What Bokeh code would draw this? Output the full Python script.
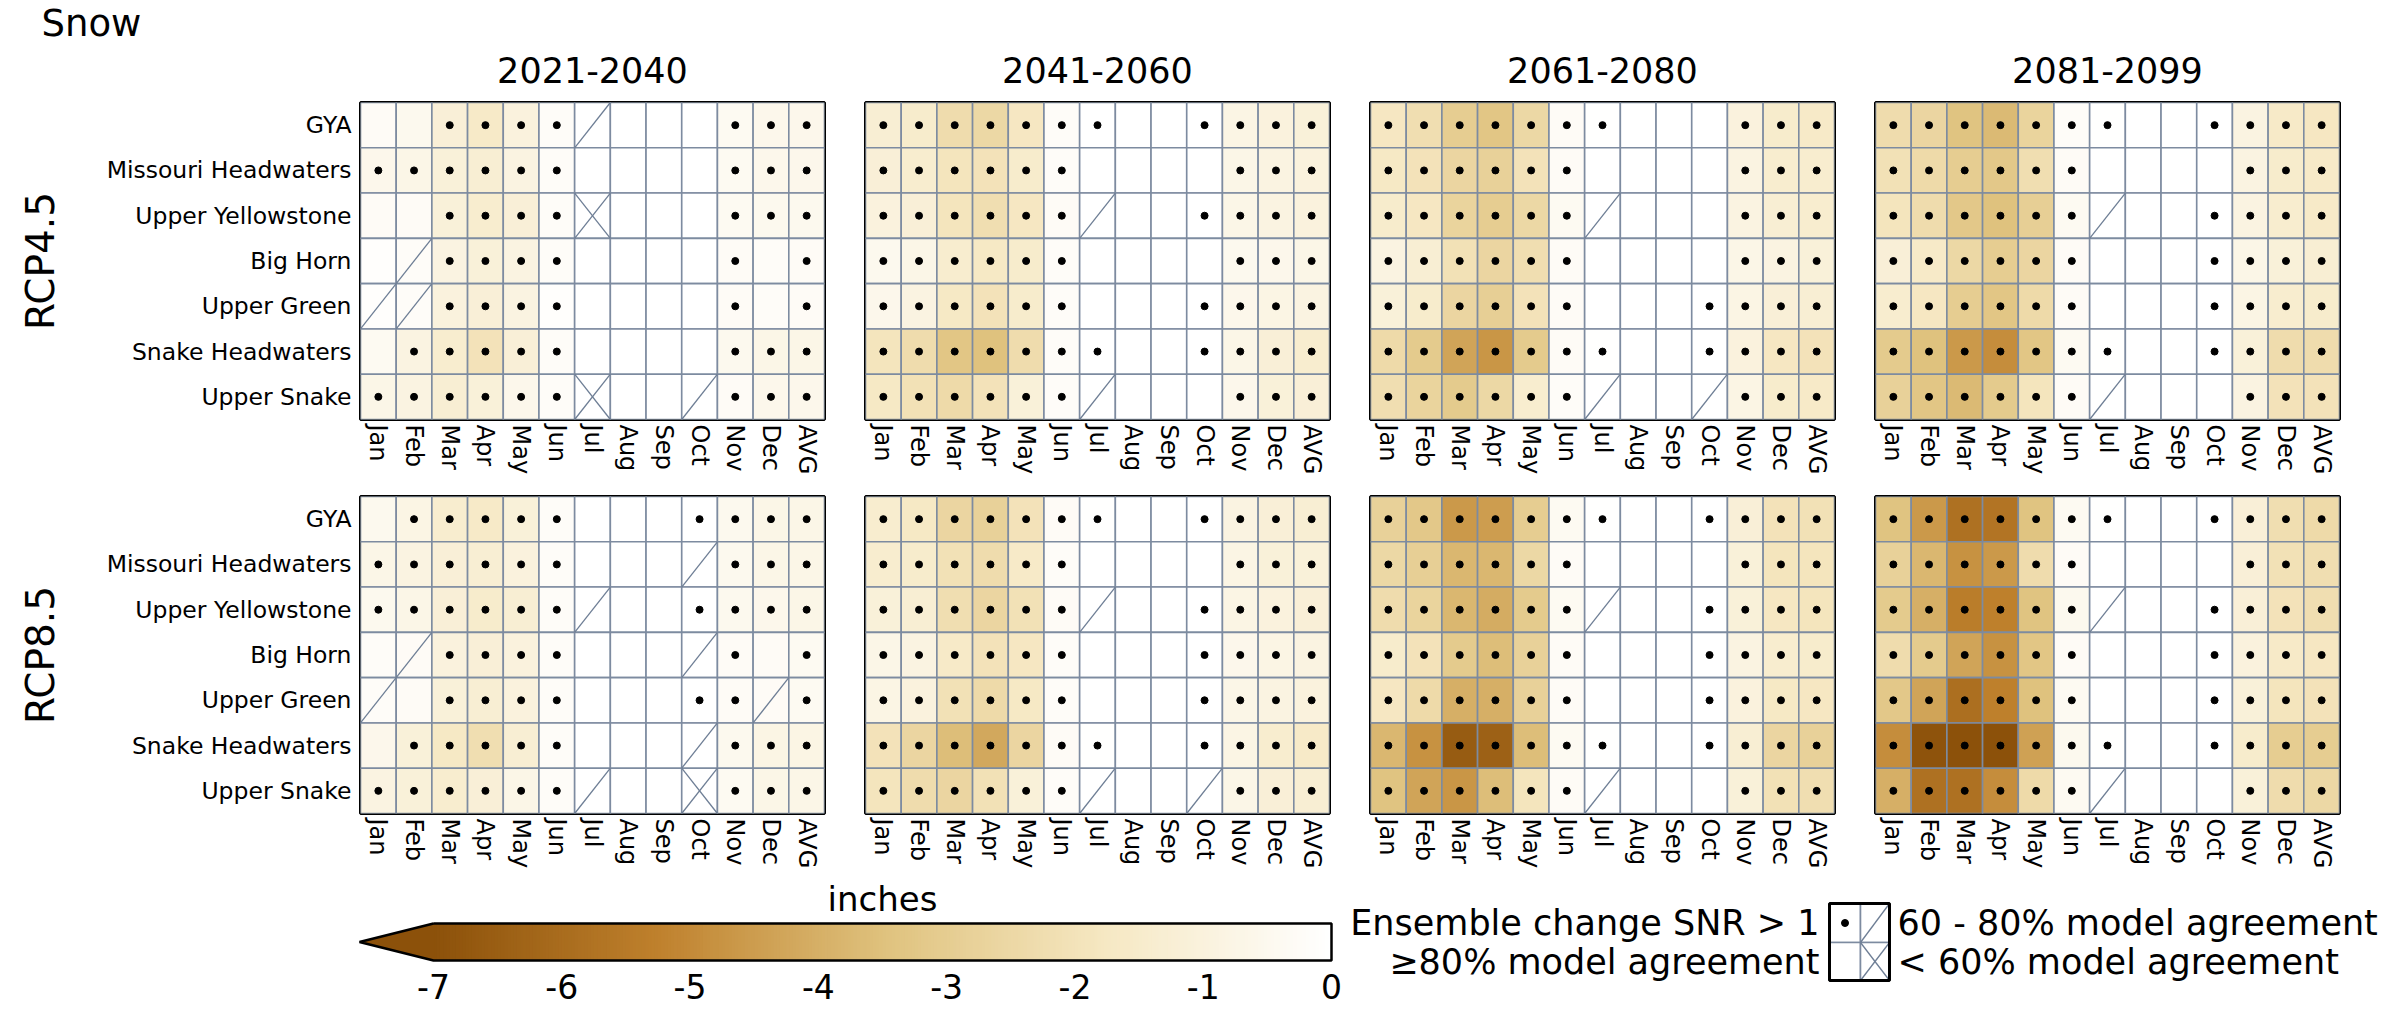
import math
import numpy as np
from bokeh.plotting import figure
from bokeh.layouts import column, row
from bokeh.models import ColumnDataSource, FactorRange, LinearColorMapper, Range1d
from bokeh.transform import transform, dodge
from bokeh.core.properties import value
from bokeh.embed import file_html
from bokeh.resources import INLINE

# ---------------- data ----------------
MONTHS = ["Jan", "Feb", "Mar", "Apr", "May", "Jun", "Jul", "Aug", "Sep", "Oct", "Nov", "Dec", "AVG"]
REGIONS = ["GYA", "Missouri Headwaters", "Upper Yellowstone", "Big Horn",
           "Upper Green", "Snake Headwaters", "Upper Snake"]
PERIODS = ["2021-2040", "2041-2060", "2061-2080", "2081-2099"]
SCENARIOS = ["RCP4.5", "RCP8.5"]
CBAR_TICKS = [-7, -6, -5, -4, -3, -2, -1, 0]
TITLE = "Snow"
CBAR_LABEL = "inches"
LEGEND_TEXT = ["Ensemble change SNR > 1", "\u226580% model agreement",
               "60 - 80% model agreement", "< 60% model agreement"]

# marks: 'o' = SNR > 1 dot, '/' = 60-80% agreement, 'x' = <60% agreement, '.' = none
rcp45_2021 = [
    [-0.3, -0.5, -1.2, -1.6, -1.0, -0.2, 0, 0, 0, 0, -0.4, -0.6, -0.6],
    [-0.6, -0.7, -1.1, -1.3, -0.9, -0.2, 0, 0, 0, 0, -0.4, -0.6, -0.6],
    [-0.3, -0.3, -1.1, -1.4, -1.2, -0.2, 0, 0, 0, 0, -0.4, -0.5, -0.5],
    [-0.1, -0.2, -0.9, -1.1, -0.9, -0.2, 0, 0, 0, 0, -0.3, -0.2, -0.3],
    [-0.1, -0.2, -1.0, -1.2, -0.9, -0.1, 0, 0, 0, 0, -0.3, -0.2, -0.3],
    [-0.4, -0.9, -1.4, -2.0, -1.2, -0.2, 0, 0, 0, 0, -0.5, -0.7, -0.7],
    [-0.7, -0.9, -1.3, -1.1, -0.6, -0.2, 0, 0, 0, 0, -0.3, -0.6, -0.6],
]
rcp45_2021_marks = ["..oooo/...ooo", "oooooo....ooo", "..oooox...ooo", "./oooo....o.o",
                    "//oooo....o.o", ".ooooo....ooo", "oooooox../ooo"]

rcp45_2041 = [
    [-1.3, -1.5, -2.3, -2.5, -1.8, -0.2, -0.02, 0, 0, -0.02, -0.8, -1.0, -1.1],
    [-1.2, -1.4, -1.9, -2.0, -1.5, -0.2, 0, 0, 0, 0, -0.7, -0.9, -1.0],
    [-1.0, -1.2, -1.9, -2.2, -1.8, -0.3, 0, 0, 0, -0.02, -0.7, -0.9, -1.0],
    [-0.5, -0.7, -1.4, -1.7, -1.5, -0.2, 0, 0, 0, 0, -0.5, -0.6, -0.7],
    [-0.6, -0.9, -1.7, -2.0, -1.5, -0.2, 0, 0, 0, -0.02, -0.6, -0.8, -0.9],
    [-1.9, -2.3, -3.3, -3.5, -2.3, -0.2, -0.02, 0, 0, -0.02, -0.7, -1.2, -1.4],
    [-1.7, -2.1, -2.4, -2.0, -1.1, -0.2, 0, 0, 0, 0, -0.6, -1.1, -1.2],
]
rcp45_2041_marks = ["ooooooo..oooo", "oooooo....ooo", "oooooo/..oooo", "oooooo....ooo",
                    "oooooo...oooo", "ooooooo..oooo", "oooooo/...ooo"]

rcp45_2061 = [
    [-1.8, -2.2, -3.0, -3.3, -2.5, -0.3, -0.03, 0, 0, 0, -1.0, -1.5, -1.6],
    [-1.7, -2.0, -2.6, -2.8, -2.0, -0.3, 0, 0, 0, 0, -0.9, -1.4, -1.4],
    [-1.5, -1.8, -2.7, -3.0, -2.5, -0.4, 0, 0, 0, 0, -0.9, -1.3, -1.4],
    [-0.9, -1.3, -2.1, -2.6, -2.2, -0.3, 0, 0, 0, 0, -0.7, -0.9, -1.1],
    [-1.1, -1.5, -2.6, -2.9, -2.0, -0.3, 0, 0, 0, -0.02, -0.8, -1.2, -1.3],
    [-2.4, -3.1, -4.3, -4.7, -3.1, -0.3, -0.03, 0, 0, -0.02, -1.0, -1.8, -2.0],
    [-2.2, -2.7, -3.1, -2.5, -1.4, -0.2, 0, 0, 0, 0, -0.8, -1.5, -1.6],
]
rcp45_2061_marks = ["ooooooo...ooo", "oooooo....ooo", "oooooo/...ooo", "oooooo....ooo",
                    "oooooo...oooo", "ooooooo..oooo", "oooooo/../ooo"]

rcp45_2081 = [
    [-2.3, -2.6, -3.4, -3.7, -2.7, -0.2, -0.03, 0, 0, -0.02, -0.9, -1.6, -1.8],
    [-2.1, -2.4, -3.0, -3.2, -2.2, -0.3, 0, 0, 0, 0, -0.9, -1.5, -1.6],
    [-1.9, -2.3, -3.2, -3.5, -2.9, -0.4, 0, 0, 0, -0.02, -0.9, -1.4, -1.6],
    [-1.2, -1.6, -2.5, -3.0, -2.6, -0.3, 0, 0, 0, -0.02, -0.7, -1.1, -1.3],
    [-1.4, -1.8, -3.0, -3.3, -2.4, -0.3, 0, 0, 0, -0.02, -0.8, -1.4, -1.5],
    [-3.1, -3.5, -4.6, -4.9, -3.3, -0.4, -0.03, 0, 0, -0.02, -1.1, -2.3, -2.3],
    [-2.8, -3.3, -3.7, -3.1, -1.9, -0.3, 0, 0, 0, 0, -0.9, -2.0, -2.0],
]
rcp45_2081_marks = ["ooooooo..oooo", "oooooo....ooo", "oooooo/..oooo", "oooooo...oooo",
                    "oooooo...oooo", "ooooooo..oooo", "oooooo/...ooo"]

rcp85_2021 = [
    [-0.5, -0.8, -1.4, -1.6, -1.1, -0.2, 0, 0, 0, -0.02, -0.5, -0.7, -0.7],
    [-0.7, -0.9, -1.2, -1.3, -1.0, -0.2, 0, 0, 0, 0, -0.5, -0.7, -0.7],
    [-0.5, -0.7, -1.2, -1.5, -1.3, -0.2, 0, 0, 0, -0.02, -0.5, -0.6, -0.7],
    [-0.2, -0.3, -1.0, -1.2, -1.0, -0.2, 0, 0, 0, 0, -0.3, -0.3, -0.4],
    [-0.2, -0.3, -1.1, -1.3, -1.0, -0.2, 0, 0, 0, -0.02, -0.3, -0.3, -0.4],
    [-0.6, -1.1, -1.7, -2.2, -1.3, -0.2, 0, 0, 0, 0, -0.5, -0.8, -0.8],
    [-0.9, -1.1, -1.4, -1.2, -0.7, -0.2, 0, 0, 0, 0, -0.4, -0.7, -0.7],
]
rcp85_2021_marks = [".ooooo...oooo", "oooooo.../ooo", "oooooo/..oooo", "./oooo.../o.o",
                    "/.oooo...oo/o", ".ooooo.../ooo", "oooooo/..xooo"]

rcp85_2041 = [
    [-1.4, -1.7, -2.6, -2.8, -2.0, -0.3, -0.03, 0, 0, -0.02, -0.9, -1.2, -1.3],
    [-1.4, -1.5, -2.1, -2.3, -1.6, -0.2, 0, 0, 0, 0, -0.8, -1.1, -1.1],
    [-1.1, -1.3, -2.2, -2.6, -2.1, -0.3, 0, 0, 0, -0.02, -0.8, -1.0, -1.2],
    [-0.7, -0.9, -1.6, -2.0, -1.8, -0.2, 0, 0, 0, -0.02, -0.6, -0.8, -0.9],
    [-0.8, -1.0, -2.1, -2.4, -1.7, -0.2, 0, 0, 0, -0.02, -0.7, -0.9, -1.0],
    [-2.0, -2.6, -3.6, -4.2, -2.6, -0.3, -0.03, 0, 0, -0.02, -0.8, -1.4, -1.6],
    [-1.9, -2.3, -2.6, -2.1, -1.1, -0.2, 0, 0, 0, 0, -0.7, -1.2, -1.3],
]
rcp85_2041_marks = ["ooooooo..oooo", "oooooo....ooo", "oooooo/..oooo", "oooooo...oooo",
                    "oooooo...oooo", "ooooooo..oooo", "oooooo/../ooo"]

rcp85_2061 = [
    [-2.8, -3.2, -4.6, -4.5, -3.0, -0.4, -0.03, 0, 0, -0.02, -1.2, -2.0, -2.1],
    [-2.5, -2.9, -3.8, -3.8, -2.5, -0.3, 0, 0, 0, 0, -1.1, -1.9, -1.9],
    [-2.3, -2.7, -3.8, -4.1, -3.1, -0.4, 0, 0, 0, -0.02, -1.1, -1.8, -1.9],
    [-1.5, -2.0, -3.1, -3.6, -2.8, -0.3, 0, 0, 0, -0.02, -0.9, -1.4, -1.5],
    [-1.8, -2.4, -4.0, -4.0, -2.8, -0.3, 0, 0, 0, -0.02, -1.0, -1.7, -1.8],
    [-3.8, -4.8, -6.6, -6.4, -3.6, -0.4, -0.03, 0, 0, -0.02, -1.3, -2.6, -2.8],
    [-3.4, -4.3, -4.7, -3.6, -1.9, -0.3, 0, 0, 0, 0, -1.1, -2.1, -2.2],
]
rcp85_2061_marks = ["ooooooo..oooo", "oooooo....ooo", "oooooo/..oooo", "oooooo...oooo",
                    "oooooo...oooo", "ooooooo..oooo", "oooooo/...ooo"]

rcp85_2081 = [
    [-3.4, -4.6, -5.8, -5.7, -3.4, -0.4, -0.03, 0, 0, -0.02, -1.2, -2.2, -2.4],
    [-2.8, -3.8, -4.8, -4.6, -2.3, -0.3, 0, 0, 0, 0, -1.2, -2.1, -2.2],
    [-3.1, -4.0, -5.4, -5.3, -3.4, -0.5, 0, 0, 0, -0.02, -1.2, -2.0, -2.2],
    [-2.3, -3.1, -4.3, -4.8, -3.3, -0.3, 0, 0, 0, -0.02, -1.0, -1.6, -1.8],
    [-3.2, -4.3, -5.9, -5.3, -3.5, -0.4, 0, 0, 0, -0.02, -1.1, -1.9, -2.0],
    [-4.9, -6.9, -7.2, -7.0, -4.4, -0.5, -0.03, 0, 0, -0.02, -1.5, -3.0, -3.0],
    [-4.0, -5.8, -5.8, -4.9, -2.4, -0.4, 0, 0, 0, 0, -1.1, -2.3, -2.5],
]
rcp85_2081_marks = ["ooooooo..oooo", "oooooo....ooo", "oooooo/..oooo", "oooooo...oooo",
                    "oooooo...oooo", "ooooooo..oooo", "oooooo/...ooo"]

PANELS = [
    [(rcp45_2021, rcp45_2021_marks), (rcp45_2041, rcp45_2041_marks),
     (rcp45_2061, rcp45_2061_marks), (rcp45_2081, rcp45_2081_marks)],
    [(rcp85_2021, rcp85_2021_marks), (rcp85_2041, rcp85_2041_marks),
     (rcp85_2061, rcp85_2061_marks), (rcp85_2081, rcp85_2081_marks)],
]

# ---------------- style ----------------
FONT = "DejaVu Sans"
GRID_COLOR = "#7d8ba0"
HATCH_COLOR = "#6e7e95"
STOPS = ["#8c510a", "#bf812d", "#dfc27d", "#f6e8c3", "#ffffff"]
UNDER_COLOR = "#8c510a"


def make_palette(stops, n=256):
    rgb = np.array([[int(h[i:i + 2], 16) for i in (1, 3, 5)] for h in stops], dtype=float)
    pos = np.linspace(0, 1, len(stops))
    t = np.linspace(0, 1, n)
    cols = np.stack([np.interp(t, pos, rgb[:, k]) for k in range(3)], axis=1)
    return ["#%02x%02x%02x" % tuple(int(round(c)) for c in cc) for cc in cols]


PALETTE = make_palette(STOPS)
mapper = LinearColorMapper(palette=PALETTE, low=CBAR_TICKS[0], high=CBAR_TICKS[-1],
                           low_color=UNDER_COLOR, high_color="#ffffff")

FRAME_W = 464
FRAME_H = 317
LABEL_W = 80
COL_W = [768, 505, 505, 484]
COL_L = [280, 17, 17, 17]


def bare(width, height, xr, yr):
    p = figure(width=width, height=height, x_range=xr, y_range=yr,
               output_backend="svg", toolbar_location=None, title=None,
               x_axis_location=None, y_axis_location=None, min_border=0)
    p.outline_line_color = None
    p.grid.grid_line_color = None
    return p


def panel(vals, marks, first_col, width, left, right, height, top, bottom):
    xr = FactorRange(factors=MONTHS)
    yr = FactorRange(factors=list(reversed(REGIONS)))
    kw = dict(x_range=xr, y_range=yr, width=width, height=height,
              output_backend="svg", toolbar_location=None, title=None,
              min_border_left=left, min_border_right=right,
              min_border_top=top, min_border_bottom=bottom)
    if not first_col:
        kw["y_axis_location"] = None
    p = figure(**kw)

    xs, ys, vs = [], [], []
    dx, dy, sx, sy, cx, cy = [], [], [], [], [], []
    for ri, reg in enumerate(REGIONS):
        for mi, mon in enumerate(MONTHS):
            xs.append(mon)
            ys.append(reg)
            vs.append(vals[ri][mi])
            m = marks[ri][mi]
            if m == "o":
                dx.append(mon); dy.append(reg)
            elif m == "/":
                sx.append(mon); sy.append(reg)
            elif m == "x":
                cx.append(mon); cy.append(reg)

    cells = ColumnDataSource(dict(x=xs, y=ys, v=vs))
    p.rect(x="x", y="y", width=1, height=1, source=cells,
           fill_color=transform("v", mapper), line_color=GRID_COLOR, line_width=1.6)

    slash = ColumnDataSource(dict(x=sx + cx, y=sy + cy))
    p.segment(x0=dodge("x", -0.5, range=xr), y0=dodge("y", -0.5, range=yr),
              x1=dodge("x", 0.5, range=xr), y1=dodge("y", 0.5, range=yr),
              source=slash, line_color=HATCH_COLOR, line_width=1.3)
    back = ColumnDataSource(dict(x=cx, y=cy))
    p.segment(x0=dodge("x", -0.5, range=xr), y0=dodge("y", 0.5, range=yr),
              x1=dodge("x", 0.5, range=xr), y1=dodge("y", -0.5, range=yr),
              source=back, line_color=HATCH_COLOR, line_width=1.3)

    dots = ColumnDataSource(dict(x=dx, y=dy))
    p.scatter(x="x", y="y", source=dots, size=7, color="black", marker="circle")

    p.grid.grid_line_color = None
    p.outline_line_color = "black"
    p.outline_line_width = 3
    p.xaxis.major_label_orientation = -math.pi / 2
    p.xaxis.major_label_text_font = FONT
    p.xaxis.major_label_text_font_size = "24px"
    p.xaxis.major_label_text_color = "black"
    p.xaxis.major_tick_line_color = None
    p.xaxis.major_tick_out = 0
    p.xaxis.major_tick_in = 0
    p.xaxis.axis_line_color = None
    p.xaxis.major_label_standoff = 5
    if first_col:
        p.yaxis.major_label_text_font = FONT
        p.yaxis.major_label_text_font_size = "23.5px"
        p.yaxis.major_label_text_color = "black"
        p.yaxis.major_tick_line_color = None
        p.yaxis.major_tick_out = 0
        p.yaxis.major_tick_in = 0
        p.yaxis.axis_line_color = None
        p.yaxis.major_label_standoff = 9
    return p


def label_fig(text, width, height, top, bottom):
    p = figure(width=width, height=height, x_range=Range1d(0, width), y_range=Range1d(0, 1),
               output_backend="svg", toolbar_location=None, title=None,
               x_axis_location=None, y_axis_location=None, min_border_left=0,
               min_border_right=0, min_border_top=top, min_border_bottom=bottom)
    p.outline_line_color = None
    p.grid.grid_line_color = None
    p.text(x=[width / 2], y=[0.5], text=[text], angle=math.pi / 2, text_align="center",
           text_baseline="middle", text_font=value(FONT), text_font_size="39px",
           text_color="black")
    return p


# header with the figure title and the period titles centred over each panel
HEADER_H = 98
header = bare(2400, HEADER_H, Range1d(0, 2400), Range1d(HEADER_H, 0))
header.text(x=[41], y=[1], text=[TITLE], text_align="left", text_baseline="top",
            text_font=value(FONT), text_font_size="37px", text_color="black")
centres = []
x0 = LABEL_W
for ci in range(4):
    centres.append(x0 + COL_L[ci] + FRAME_W / 2)
    x0 += COL_W[ci]
header.text(x=centres, y=[56] * 4, text=PERIODS, text_align="center", text_baseline="top",
            text_font=value(FONT), text_font_size="35px", text_color="black")

# panel rows
ROW_SPECS = [(380, 4), (397, 18)]   # (figure height, top border)
rows = []
for si, scen in enumerate(SCENARIOS):
    h, top = ROW_SPECS[si]
    bottom = h - top - FRAME_H
    figs = [label_fig(scen, LABEL_W, h, top, bottom)]
    for ci in range(4):
        vals, marks = PANELS[si][ci]
        w = COL_W[ci]
        l = COL_L[ci]
        r = w - l - FRAME_W
        figs.append(panel(vals, marks, ci == 0, w, l, r, h, top, bottom))
    rows.append(row(*figs, spacing=0))

# colorbar (full-frame figure, x in data units, y in pixels from the top)
CB_W, CB_H = 1350, 136
PX_PER_UNIT = 898.0 / 7.0
CB_X0 = CBAR_TICKS[0] - 433.0 / PX_PER_UNIT
cb = bare(CB_W, CB_H, Range1d(CB_X0, CB_X0 + CB_W / PX_PER_UNIT), Range1d(CB_H, 0))
bar_top, bar_bot = 48, 85
edges = np.linspace(CBAR_TICKS[0], CBAR_TICKS[-1], 281)
grad = ColumnDataSource(dict(l=edges[:-1], r=edges[1:] + 0.012, v=(edges[:-1] + edges[1:]) / 2))
cb.quad(left="l", right="r", bottom=bar_bot, top=bar_top, source=grad,
        fill_color=transform("v", mapper), line_color=None)
tip = CBAR_TICKS[0] - 74.0 / PX_PER_UNIT
mid = (bar_top + bar_bot) / 2
cb.patch(x=[CBAR_TICKS[0] + 0.01, tip, CBAR_TICKS[0] + 0.01], y=[bar_top, mid, bar_bot],
         fill_color=UNDER_COLOR, line_color=None)
cb.line(x=[CBAR_TICKS[0], tip, CBAR_TICKS[0], CBAR_TICKS[-1], CBAR_TICKS[-1], CBAR_TICKS[0]],
        y=[bar_top, mid, bar_bot, bar_bot, bar_top, bar_top], line_color="black", line_width=2.5)
cb.text(x=CBAR_TICKS, y=[110.5] * len(CBAR_TICKS), text=[str(t) for t in CBAR_TICKS],
        text_align="center", text_baseline="middle", text_font=value(FONT),
        text_font_size="33px", text_color="black")
cb.text(x=[(CBAR_TICKS[0] + CBAR_TICKS[-1]) / 2], y=[23.5], text=[CBAR_LABEL],
        text_align="center", text_baseline="middle", text_font=value(FONT),
        text_font_size="34px", text_color="black")

# legend
lg = bare(2400 - CB_W, CB_H, Range1d(0, 2400 - CB_W), Range1d(CB_H, 0))
bx0, bxm, bx1 = 479, 510, 539
by0, bym, by1 = 28, 67, 105
lg.quad(left=[bx0, bxm, bx0, bxm], right=[bxm, bx1, bxm, bx1],
        top=[by0, by0, bym, bym], bottom=[bym, bym, by1, by1],
        fill_color="white", line_color=GRID_COLOR, line_width=1.6)
lg.segment(x0=[bxm, bxm, bxm], y0=[bym, by1, bym], x1=[bx1, bx1, bx1], y1=[by0, bym, by1],
           line_color=HATCH_COLOR, line_width=1.3)
lg.scatter(x=[(bx0 + bxm) / 2], y=[(by0 + bym) / 2], size=7, color="black", marker="circle")
lg.quad(left=[bx0], right=[bx1], top=[by0], bottom=[by1], fill_color=None,
        line_color="black", line_width=3)
lg.text(x=[bx0 - 10, bx0 - 10], y=[(by0 + bym) / 2, (bym + by1) / 2], text=LEGEND_TEXT[:2],
        text_align="right", text_baseline="middle", text_font=value(FONT),
        text_font_size="35px", text_color="black")
lg.text(x=[bx1 + 8, bx1 + 8], y=[(by0 + bym) / 2, (bym + by1) / 2], text=LEGEND_TEXT[2:],
        text_align="left", text_baseline="middle", text_font=value(FONT),
        text_font_size="35px", text_color="black")

layout = column(header, rows[0], rows[1], row(cb, lg, spacing=0), spacing=0)
open("out.html", "w").write(file_html(layout, INLINE))
